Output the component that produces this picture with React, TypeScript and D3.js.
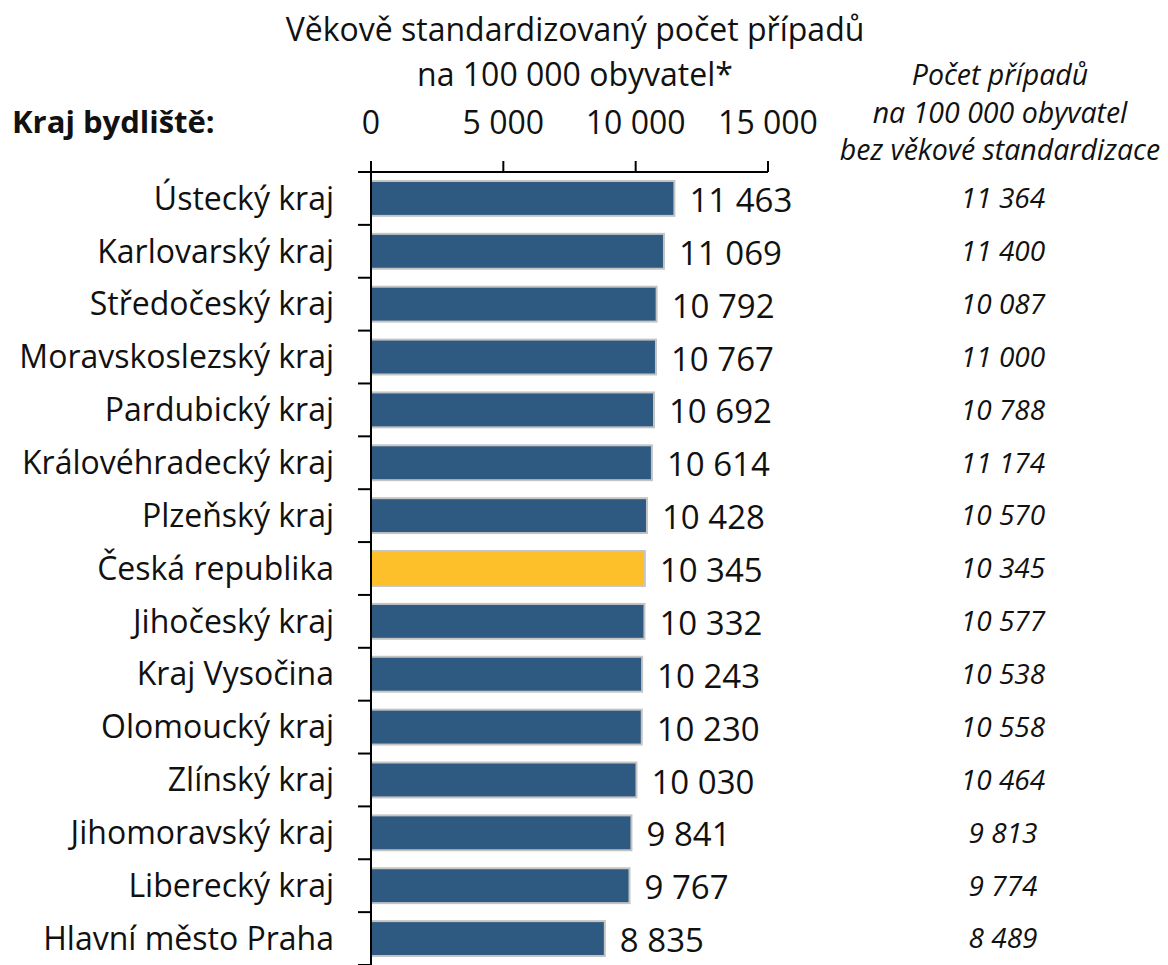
import * as d3 from 'd3';

const regions = [
  'Ústecký kraj',
  'Karlovarský kraj',
  'Středočeský kraj',
  'Moravskoslezský kraj',
  'Pardubický kraj',
  'Královéhradecký kraj',
  'Plzeňský kraj',
  'Česká republika',
  'Jihočeský kraj',
  'Kraj Vysočina',
  'Olomoucký kraj',
  'Zlínský kraj',
  'Jihomoravský kraj',
  'Liberecký kraj',
  'Hlavní město Praha',
];
const standardized = [11463, 11069, 10792, 10767, 10692, 10614, 10428, 10345, 10332, 10243, 10230, 10030, 9841, 9767, 8835];
const unstandardized = [11364, 11400, 10087, 11000, 10788, 11174, 10570, 10345, 10577, 10538, 10558, 10464, 9813, 9774, 8489];
const xTicks = [0, 5000, 10000, 15000];
const highlight = 'Česká republika';

const W = 1168;
const H = 965;
const FONT = '"Open Sans", Lato, sans-serif';

const locale = d3.formatLocale({ decimal: ',', thousands: '\u00a0', grouping: [3], currency: ['', ''] });
const fmt = locale.format(',d');

export default function App() {
  const x = d3.scaleLinear().domain([0, 15000]).range([371, 768]);
  const y = d3.scaleBand<string>().domain(regions).range([172, 965]).paddingInner(0.34).paddingOuter(0.17);
  const step = y.step();
  const mid = (r: string) => (y(r) ?? 0) + y.bandwidth() / 2;

  return (
    <div style={{ position: 'absolute', left: 0, top: 0 }}>
      <svg width={W} height={H} style={{ display: 'block', background: '#fff' }} fontFamily={FONT}>
        {/* titles */}
        <g fontSize={32} fill="#111" textAnchor="middle">
          <text x={575} y={30} dy="0.35em">Věkově standardizovaný počet případů</text>
          <text x={575} y={75} dy="0.35em">na 100 000 obyvatel*</text>
        </g>
        <text x={12} y={122} dy="0.35em" fontSize={31} fontWeight="bold" fill="#111">Kraj bydliště:</text>

        <g fontStyle="italic" fontSize={28.5} fill="#111" textAnchor="middle">
          <text x={1000} y={75} dy="0.35em">Počet případů</text>
          <text x={1000} y={113} dy="0.35em">na 100 000 obyvatel</text>
          <text x={1000} y={150} dy="0.35em">bez věkové standardizace</text>
        </g>

        {/* x tick labels */}
        {xTicks.map(t => (
          <text key={t} x={x(t)} y={123} dy="0.35em" textAnchor="middle" fontSize={32} fill="#111">{fmt(t)}</text>
        ))}

        {/* bars */}
        {regions.map((r, i) => (
          <rect
            key={r}
            x={x(0)}
            y={y(r)}
            width={x(standardized[i]) - x(0)}
            height={y.bandwidth()}
            fill={r === highlight ? '#FDBF2A' : '#2E5A81'}
            stroke="#c4c4c4"
            strokeWidth={2}
          />
        ))}

        {/* value labels */}
        {regions.map((r, i) => (
          <text key={r} x={x(standardized[i]) + 15} y={mid(r) + 2} dy="0.35em" fontSize={33} fill="#111">
            {fmt(standardized[i])}
          </text>
        ))}

        {/* category labels */}
        {regions.map(r => (
          <text key={r} x={334} y={mid(r)} dy="0.35em" textAnchor="end" fontSize={32} fill="#111">
            {r}
          </text>
        ))}

        {/* unstandardized column */}
        {regions.map((r, i) => (
          <text key={r} x={1003} y={mid(r)} dy="0.35em" textAnchor="middle" fontSize={28} fontStyle="italic" fill="#111">
            {fmt(unstandardized[i])}
          </text>
        ))}

        {/* axes */}
        <g stroke="#000" strokeWidth={2}>
          <line x1={358} x2={x(15000)} y1={172} y2={172} />
          {xTicks.map(t => (
            <line key={t} x1={x(t)} x2={x(t)} y1={161} y2={172} />
          ))}
          <line x1={x(0)} x2={x(0)} y1={172} y2={965} />
          {regions.map((r, i) => (
            <line key={r} x1={358} x2={x(0)} y1={172 + step * (i + 1)} y2={172 + step * (i + 1)} />
          ))}
        </g>
      </svg>
    </div>
  );
}
